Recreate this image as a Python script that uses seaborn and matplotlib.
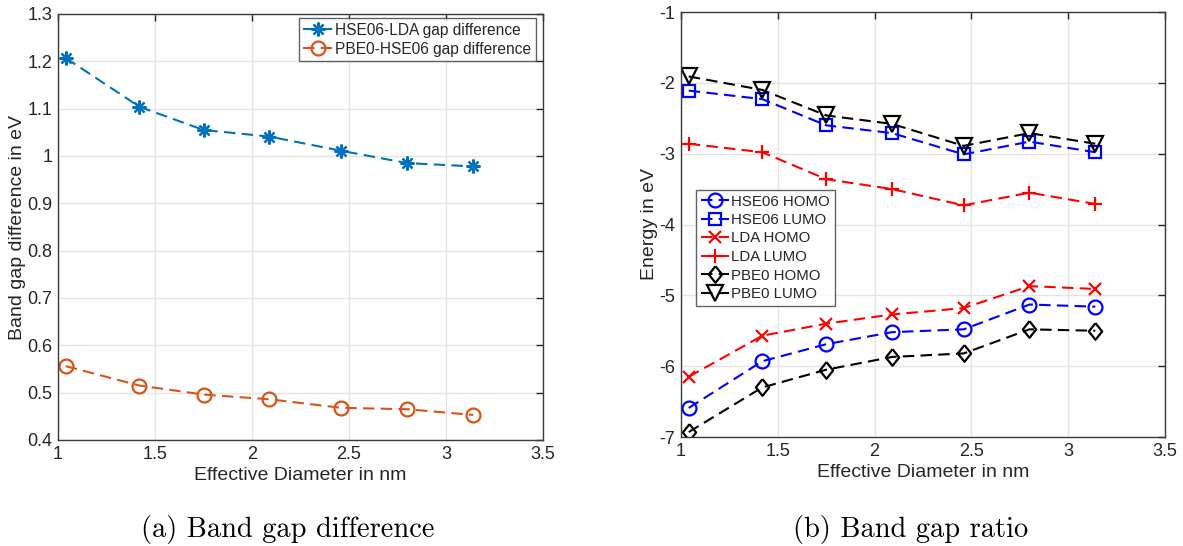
import numpy as np
import pandas as pd
import matplotlib
matplotlib.use("Agg")
import matplotlib.pyplot as plt
from matplotlib.ticker import FuncFormatter, MultipleLocator
import seaborn as sns

# Effective diameters of the nanostructures (nm)
diameter = [1.04, 1.42, 1.75, 2.09, 2.46, 2.80, 3.14]

# (a) gap differences (eV)
hse_lda_diff = [1.207, 1.104, 1.055, 1.041, 1.011, 0.985, 0.978]
pbe0_hse_diff = [0.556, 0.515, 0.496, 0.486, 0.468, 0.465, 0.453]

# (b) frontier orbital energies (eV)
hse06_homo = [-6.59, -5.93, -5.69, -5.52, -5.48, -5.13, -5.16]
hse06_lumo = [-2.11, -2.23, -2.60, -2.71, -3.01, -2.83, -2.98]
lda_homo = [-6.15, -5.57, -5.40, -5.27, -5.18, -4.87, -4.91]
lda_lumo = [-2.86, -2.98, -3.36, -3.50, -3.73, -3.55, -3.71]
pbe0_homo = [-6.93, -6.30, -6.05, -5.87, -5.82, -5.48, -5.50]
pbe0_lumo = [-1.91, -2.10, -2.46, -2.58, -2.89, -2.71, -2.86]

sns.set_theme(style="white")
plt.rcParams["font.family"] = ["Liberation Sans", "DejaVu Sans"]

TXT = "#262626"
SPINE = "#3a3a3a"
W, H = 1183, 546
fig = plt.figure(figsize=(W / 100, H / 100), dpi=100)


def px_axes(l, t, r, b):
    return fig.add_axes([l / W, 1 - b / H, (r - l) / W, (b - t) / H])


ax1 = px_axes(58, 14, 543, 440)
ax2 = px_axes(681, 12, 1165, 437)

dash = (5.5, 3.0)
# MATLAB-style diamond: a bit narrower than tall
diamond = [(0, 1), (0.8, 0), (0, -1), (-0.8, 0), (0, 1)]
asterisk = (8, 2, 0)


def draw(ax, y, color, marker, label, ms=9.0):
    sns.lineplot(x=diameter, y=y, ax=ax, color=color, marker=marker,
                 markersize=ms, markerfacecolor="none", markeredgecolor=color,
                 markeredgewidth=1.6, linewidth=1.5, dashes=False,
                 linestyle=(0, dash), label=label)


# (a)
draw(ax1, hse_lda_diff, "#0072BD", asterisk, "HSE06-LDA gap difference", ms=10)
draw(ax1, pbe0_hse_diff, "#D95319", "o", "PBE0-HSE06 gap difference", ms=10)
ax1.set_xlim(1, 3.5)
ax1.set_ylim(0.4, 1.3)
ax1.yaxis.set_major_locator(MultipleLocator(0.1))
ax1.set_xlabel("Effective Diameter in nm", fontsize=14, color=TXT, labelpad=3)
ax1.set_ylabel("Band gap difference in eV", fontsize=14, color=TXT, labelpad=1)

# (b)
draw(ax2, hse06_homo, "blue", "o", "HSE06 HOMO", ms=10)
draw(ax2, hse06_lumo, "blue", "s", "HSE06 LUMO", ms=9)
draw(ax2, lda_homo, "red", "x", "LDA HOMO", ms=8)
draw(ax2, lda_lumo, "red", "+", "LDA LUMO", ms=10)
draw(ax2, pbe0_homo, "black", diamond, "PBE0 HOMO", ms=12)
draw(ax2, pbe0_lumo, "black", "v", "PBE0 LUMO", ms=11)
ax2.set_xlim(1, 3.5)
ax2.set_ylim(-7, -1)
ax2.yaxis.set_major_locator(MultipleLocator(1))
ax2.set_xlabel("Effective Diameter in nm", fontsize=14, color=TXT, labelpad=3)
ax2.set_ylabel("Energy in eV", fontsize=14, color=TXT, labelpad=1)

fmt = FuncFormatter(lambda v, p: "%g" % round(v, 6))
for ax in (ax1, ax2):
    ax.xaxis.set_major_locator(MultipleLocator(0.5))
    ax.xaxis.set_major_formatter(fmt)
    ax.yaxis.set_major_formatter(fmt)
    ax.grid(True, color="#e4e4e4", linewidth=1.0)
    ax.set_axisbelow(True)
    for s in ax.spines.values():
        s.set_color(SPINE)
        s.set_linewidth(1.0)
    ax.tick_params(direction="in", length=5, width=1.0, colors=TXT,
                   labelsize=13, top=True, right=True, pad=4)

legkw = dict(frameon=True, fancybox=False, edgecolor=SPINE, handlelength=1.9,
             handletextpad=0.15, borderpad=0.3, borderaxespad=0.0)
leg1 = ax1.legend(loc="upper right", bbox_to_anchor=((536 - 58) / 485, 1 - (18 - 14) / 426),
                  fontsize=11.2, labelspacing=0.25, **legkw)
leg2 = ax2.legend(loc="upper left", bbox_to_anchor=((696 - 681) / 484, 1 - (190 - 12) / 425),
                  fontsize=10.8, labelspacing=0.3, **legkw)
for leg in (leg1, leg2):
    leg.get_frame().set_linewidth(1.0)
    for t in leg.get_texts():
        t.set_color(TXT)

cap = dict(fontsize=20.5, family=["cmr10", "DejaVu Serif"], ha="center",
           va="baseline", color="black")
fig.text(288 / W, 1 - 537 / H, "(a) Band gap difference", **cap)
fig.text(911 / W, 1 - 537 / H, "(b) Band gap ratio", **cap)

fig.savefig("out.png", dpi=100, facecolor="white")
